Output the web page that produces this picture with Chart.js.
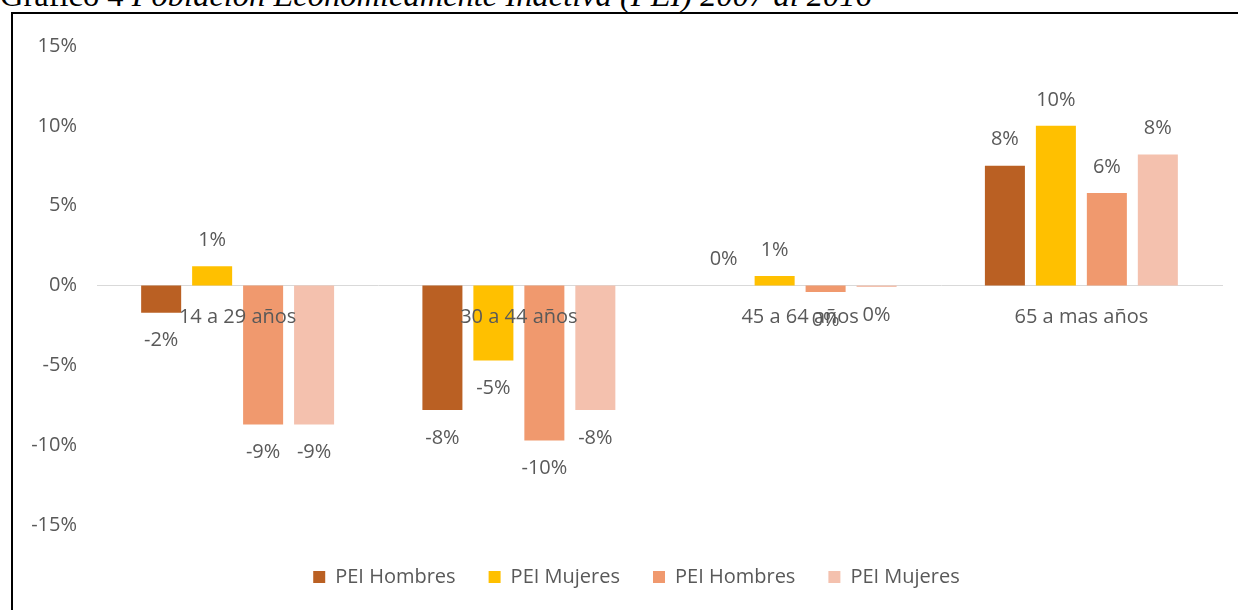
<!DOCTYPE html>
<html lang="es">
<head>
  <meta charset="UTF-8" />
  <title>Gráfico 4 - PEI 2007 al 2016</title>
  <script src="https://cdn.jsdelivr.net/npm/chart.js"></script>
  <style>
    html, body {
      margin: 0;
      width: 1238px;
      height: 610px;
      overflow: hidden;
      background: #fff;
    }

    .title {
      position: absolute;
      left: 0;
      top: -21px;
      font-family: 'Liberation Serif', 'Times New Roman', serif;
      font-size: 32.5px;
      line-height: 32px;
      color: #000;
      white-space: nowrap;
    }

    .frame {
      position: absolute;
      left: 11px;
      top: 12px;
      width: 1260px;
      height: 620px;
      border: 2px solid #000;
    }

    canvas {
      position: absolute;
      left: 0;
      top: 0;
    }
  </style>
</head>
<body>
  <div class="title">Gráfico 4 <i>Población Económicamente Inactiva (PEI) 2007 al 2016</i></div>
  <div class="frame">
    <canvas id="peiChart" width="1250" height="596"></canvas>
  </div>

  <script>
    const ageGroups = ['14 a 29 años', '30 a 44 años', '45 a 64 años', '65 a mas años'];
    const seriesNames = ['PEI Hombres', 'PEI Mujeres', 'PEI Hombres', 'PEI Mujeres'];

    // variación en puntos porcentuales
    const hombres1 = [-1.7, -7.8, 0.0, 7.5];
    const mujeres1 = [1.2, -4.7, 0.6, 10.0];
    const hombres2 = [-8.7, -9.7, -0.4, 5.8];
    const mujeres2 = [-8.7, -7.8, -0.1, 8.2];

    const yTicks = [-15, -10, -5, 0, 5, 10, 15];

    const barColors = ['#BA6023', '#FFC000', '#F0996E', '#F4C1AE'];
    const textColor = '#595959';

    Chart.defaults.font.family = "'Open Sans', sans-serif";
    Chart.defaults.font.size = 20;
    Chart.defaults.color = textColor;

    // etiquetas de datos encima / debajo de cada barra
    const barLabels = {
      id: 'barLabels',
      afterDatasetsDraw(chart) {
        const ctx = chart.ctx;
        ctx.save();
        ctx.font = "20px 'Open Sans', sans-serif";
        ctx.fillStyle = textColor;
        ctx.textAlign = 'center';
        ctx.textBaseline = 'middle';
        chart.data.datasets.forEach((ds, i) => {
          chart.getDatasetMeta(i).data.forEach((bar, j) => {
            const v = ds.data[j];
            const txt = Math.round(v) + '%';
            ctx.fillText(txt, bar.x, v >= 0 ? bar.y - 26 : bar.y + 28);
          });
        });
        ctx.restore();
      }
    };

    // la leyenda de Excel queda centrada en todo el marco, no en el área útil
    const legendShift = {
      id: 'legendShift',
      afterLayout(chart) {
        chart.legend.left += 19;
        chart.legend.right += 19;
      }
    };

    const allSeries = [hombres1, mujeres1, hombres2, mujeres2];

    new Chart(document.getElementById('peiChart'), {
      type: 'bar',
      data: {
        labels: ageGroups,
        datasets: allSeries.map((vals, i) => ({
          label: seriesNames[i],
          data: vals,
          backgroundColor: barColors[i],
          categoryPercentage: 0.725,
          barPercentage: 0.785
        }))
      },
      options: {
        responsive: false,
        animation: false,
        layout: {
          padding: { top: 28, right: 41, bottom: 13, left: 0 }
        },
        scales: {
          x: {
            position: { y: 0 },
            grid: { display: false, drawTicks: false },
            border: { display: true, color: '#D9D9D9', width: 1 },
            ticks: { z: 1, padding: 20, color: textColor, maxRotation: 0, autoSkip: false }
          },
          y: {
            min: -15,
            max: 15,
            afterFit(scale) { scale.width = 84; },
            afterBuildTicks(scale) { scale.ticks = yTicks.map(v => ({ value: v })); },
            grid: { display: false, drawTicks: false },
            border: { display: false },
            ticks: {
              padding: 20,
              color: textColor,
              callback: v => v + '%'
            }
          }
        },
        plugins: {
          legend: {
            position: 'bottom',
            title: { display: true, text: '', padding: 0, font: { size: 9, lineHeight: 1 } },
            labels: {
              boxWidth: 12,
              boxHeight: 12,
              padding: 33,
              color: textColor,
              font: { size: 20 }
            }
          },
          tooltip: { enabled: false }
        }
      },
      plugins: [barLabels, legendShift]
    });
  </script>
</body>
</html>
